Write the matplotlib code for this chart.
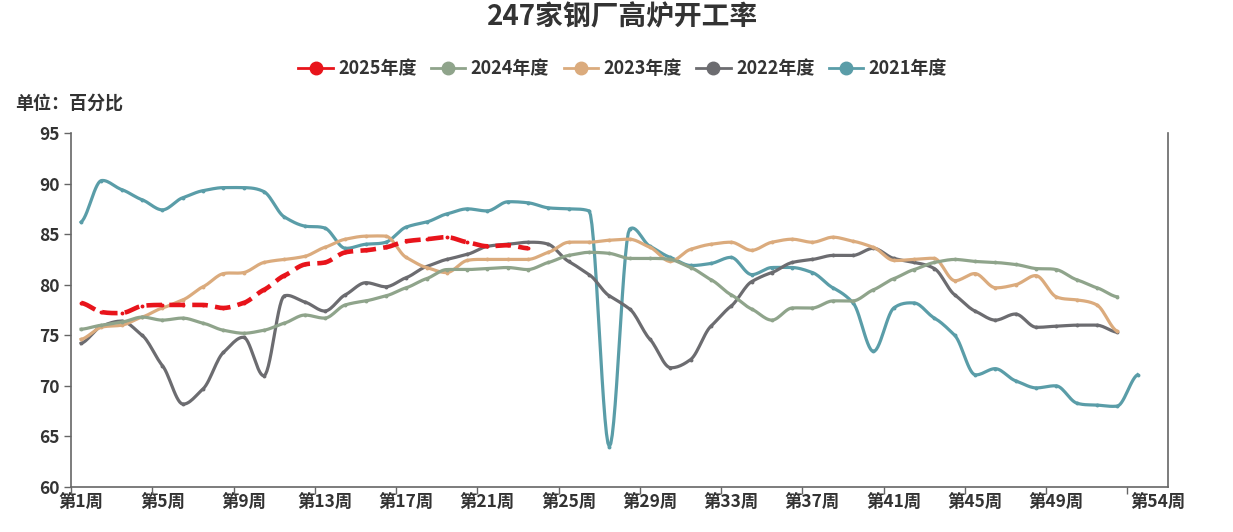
import numpy as np
import matplotlib
matplotlib.use('Agg')
from matplotlib import pyplot as plt

plt.rcParams['font.family'] = ['Noto Sans CJK SC', 'DejaVu Sans']

weeks = ['第%d周' % (i + 1) for i in range(54)]

y2025 = [78.2, 77.3, 77.2, 77.9, 78.0, 78.0, 78.0, 77.7, 78.2, 79.5, 80.9, 82.0,
         82.2, 83.2, 83.4, 83.7, 84.3, 84.5, 84.7, 84.2, 83.8, 83.9, 83.6]

y2024 = [75.6, 76.0, 76.3, 76.8, 76.5, 76.7, 76.2, 75.5, 75.2, 75.5, 76.2, 77.0,
         76.7, 78.0, 78.4, 78.9, 79.7, 80.6, 81.5, 81.5, 81.6, 81.7, 81.5, 82.2,
         82.9, 83.2, 83.1, 82.6, 82.6, 82.5, 81.7, 80.5, 79.0, 77.6, 76.5, 77.7,
         77.7, 78.4, 78.4, 79.5, 80.6, 81.5, 82.2, 82.5, 82.3, 82.2, 82.0, 81.6,
         81.5, 80.5, 79.7, 78.8]

y2023 = [74.6, 75.8, 76.0, 76.8, 77.7, 78.5, 79.8, 81.1, 81.2, 82.2, 82.5, 82.8,
         83.7, 84.5, 84.8, 84.8, 82.7, 81.7, 81.2, 82.4, 82.5, 82.5, 82.5, 83.2,
         84.2, 84.2, 84.4, 84.5, 83.7, 82.3, 83.5, 84.0, 84.2, 83.4, 84.2, 84.5,
         84.2, 84.7, 84.3, 83.7, 82.4, 82.5, 82.6, 80.4, 81.1, 79.7, 80.0, 80.9,
         78.8, 78.5, 78.0, 75.4]

y2022 = [74.2, 75.9, 76.4, 75.0, 72.0, 68.2, 69.7, 73.3, 74.8, 71.0, 78.9, 78.3,
         77.4, 79.0, 80.2, 79.8, 80.7, 81.8, 82.5, 83.0, 83.8, 84.0, 84.2, 84.0,
         82.3, 81.0, 78.9, 77.6, 74.6, 71.8, 72.6, 75.9, 77.9, 80.3, 81.2, 82.2,
         82.5, 82.9, 82.9, 83.6, 82.6, 82.2, 81.6, 79.0, 77.4, 76.5, 77.1, 75.8,
         75.9, 76.0, 76.0, 75.3]

y2021 = [86.2, 90.3, 89.4, 88.4, 87.4, 88.6, 89.3, 89.6, 89.6, 89.2, 86.7, 85.8,
         85.6, 83.6, 84.0, 84.2, 85.7, 86.2, 87.0, 87.5, 87.3, 88.2, 88.1, 87.6,
         87.5, 87.3, 64.0, 85.5, 83.8, 82.7, 81.9, 82.1, 82.7, 81.0, 81.7, 81.7,
         81.2, 79.7, 78.2, 73.4, 77.7, 78.2, 76.7, 75.0, 71.1, 71.7, 70.5, 69.8,
         70.0, 68.3, 68.1, 68.0, 71.1]

series = [('2025年度', y2025, '#e8141b'),
          ('2024年度', y2024, '#8fa48b'),
          ('2023年度', y2023, '#dbab7d'),
          ('2022年度', y2022, '#6c6c70'),
          ('2021年度', y2021, '#5a9da8')]


def smooth(y, n=14):
    # smooth curve through the weekly points (drawing only): one tangent per
    # point, shrunk so the curve stays inside each segment's range
    y = np.asarray(y, float)
    k = len(y)
    m = np.zeros(k)
    for i in range(k):
        a = y[max(i - 1, 0)]
        b = y[min(i + 1, k - 1)]
        m[i] = (b - a) / 2 * 0.7
        lim = []
        if i > 0:
            lim.append(abs(y[i] - y[i - 1]))
        if i < k - 1:
            lim.append(abs(y[i + 1] - y[i]))
        if 0 < i < k - 1 and (y[i] - y[i - 1]) * (y[i + 1] - y[i]) <= 0:
            m[i] *= 0.25
        m[i] = np.clip(m[i], -3 * min(lim) * 0.9 - 0.15, 3 * min(lim) * 0.9 + 0.15)
    xs, ys = [], []
    t = np.linspace(0, 1, n, endpoint=False)
    for i in range(k - 1):
        p1, p2 = y[i], y[i + 1]
        c1 = p1 + m[i] / 3
        c2 = p2 - m[i + 1] / 3
        xs.append(i + t)
        ys.append((1 - t)**3 * p1 + 3 * (1 - t)**2 * t * c1 + 3 * (1 - t) * t**2 * c2 + t**3 * p2)
    xs.append([k - 1])
    ys.append([y[-1]])
    return np.concatenate(xs), np.concatenate(ys)


fig = plt.figure(figsize=(12.33, 5.32), dpi=100)
ax = fig.add_axes([71 / 1233, 1 - 487 / 532, 1097 / 1233, 354 / 532])

handles = []
for name, vals, col in reversed(series):
    sx, sy = smooth(vals)
    if name == '2025年度':
        ln, = ax.plot(sx, sy, color=col, lw=3.3, dashes=(3.4, 1.6), zorder=6,
                      dash_capstyle='butt')
    else:
        ln, = ax.plot(sx, sy, color=col, lw=2.3, zorder=3)
    ax.plot(np.arange(len(vals)), vals, 'o', color=col, ms=1.8, zorder=ln.get_zorder())
    h, = ax.plot([], [], color=col, lw=2, marker='o', ms=9, label=name)
    handles.append(h)

ax.set_xlim(-0.5, 53.5)
ax.set_ylim(60, 95)
ax.set_yticks(np.arange(60, 96, 5))

lab_pos = list(range(0, 49, 4)) + [53]
ax.set_xticks(lab_pos)
ax.set_xticklabels([weeks[i] for i in lab_pos])
ax.set_xticks(np.arange(-0.5, 54, 4), minor=True)
ax.tick_params(axis='x', which='major', length=0, pad=5)
ax.tick_params(axis='x', which='minor', length=5, color='#666666', width=1)
ax.tick_params(axis='y', length=5, color='#666666', width=1, pad=3)

for lb in ax.get_xticklabels() + ax.get_yticklabels():
    lb.set_fontsize(12.5)
    lb.set_fontweight('bold')
    lb.set_color('#333333')

ax.spines['top'].set_visible(False)
for s in ['left', 'right', 'bottom']:
    ax.spines[s].set_color('#666666')
    ax.spines[s].set_linewidth(1.2)

fig.text(0.505, 0.967, '247家钢厂高炉开工率', ha='center', va='center',
         fontsize=20, fontweight='bold', color='#333333')
fig.text(15 / 1233, 1 - 103 / 532, '单位：百分比', ha='left', va='center',
         fontsize=13, fontweight='bold', color='#333333')

leg = fig.legend(handles=list(reversed(handles)), loc='center', ncol=5,
                 bbox_to_anchor=(0.505, 1 - 69 / 532), frameon=False,
                 handlelength=1.9, handletextpad=0.3, columnspacing=0.8,
                 prop={'weight': 'bold', 'size': 13})
for t in leg.get_texts():
    t.set_color('#333333')

fig.savefig('out.png', dpi=100)
